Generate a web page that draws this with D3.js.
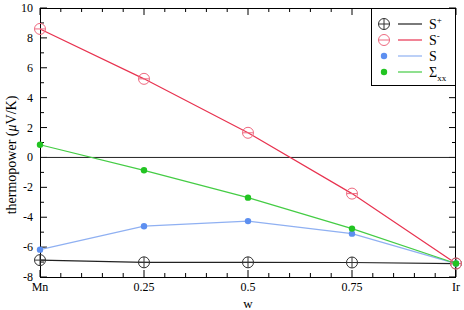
<!DOCTYPE html>
<html>
<head>
<meta charset="utf-8">
<script src="https://cdn.jsdelivr.net/npm/d3@7"></script>
<style>
  body { margin: 0; background: #fff; }
</style>
</head>
<body>
<div id="chart"></div>
<script>
const width = 464;
const height = 310;
const margin = { left: 40, top: 8, right: 8, bottom: 33 };

// data
const wValues = [0, 0.25, 0.5, 0.75, 1];
const xTickLabels = ['Mn', '0.25', '0.5', '0.75', 'Ir'];
const sPlus = [-6.87, -7.02, -7.02, -7.03, -7.1];
const sMinus = [8.6, 5.26, 1.65, -2.42, -7.1];
const sTotal = [-6.17, -4.6, -4.26, -5.1, -7.1];
const sigmaXX = [0.85, -0.86, -2.69, -4.76, -7.1];
const yTicks = [-8, -6, -4, -2, 0, 2, 4, 6, 8, 10];

const series = [
  { name: 'S', sup: '+', sub: null, values: sPlus, line: '#222', marker: 'plus', mcolor: '#333' },
  { name: 'S', sup: '-', sub: null, values: sMinus, line: '#e8324f', marker: 'minus', mcolor: '#ee6a80' },
  { name: 'S', sup: null, sub: null, values: sTotal, line: '#8fb0f2', marker: 'dot', mcolor: '#5d8ff0' },
  { name: 'Σ', sup: null, sub: 'xx', values: sigmaXX, line: '#44cc44', marker: 'dot', mcolor: '#22c422' },
];

const svg = d3.select('#chart').append('svg')
  .attr('width', width)
  .attr('height', height)
  .attr('font-family', "'Liberation Serif', 'Times New Roman', 'DejaVu Serif', serif");

const x = d3.scaleLinear()
  .domain([0, 1])
  .range([margin.left, width - margin.right]);
const y = d3.scaleLinear()
  .domain([-8, 10])
  .range([height - margin.bottom, margin.top]);

const x0 = margin.left, x1 = width - margin.right;
const y0 = height - margin.bottom, y1 = margin.top;

// ticks on all four sides, pointing inwards
const tickG = svg.append('g').attr('stroke', '#000').attr('stroke-width', 1);
const xMinor = d3.range(0, 1.0001, 0.05);
xMinor.forEach((v, i) => {
  const len = i % 5 === 0 ? 7 : 4;
  tickG.append('line').attr('x1', x(v)).attr('x2', x(v)).attr('y1', y0).attr('y2', y0 - len);
  tickG.append('line').attr('x1', x(v)).attr('x2', x(v)).attr('y1', y1).attr('y2', y1 + len);
});
d3.range(-8, 10.001, 1).forEach((v) => {
  const len = v % 2 === 0 ? 7 : 4;
  tickG.append('line').attr('y1', y(v)).attr('y2', y(v)).attr('x1', x0).attr('x2', x0 + len);
  tickG.append('line').attr('y1', y(v)).attr('y2', y(v)).attr('x1', x1).attr('x2', x1 - len);
});

// zero line
svg.append('line')
  .attr('x1', x0).attr('x2', x1)
  .attr('y1', y(0)).attr('y2', y(0))
  .attr('stroke', '#222').attr('stroke-width', 1);

// frame
svg.append('rect')
  .attr('x', x0 + 0.5).attr('y', y1 + 0.5)
  .attr('width', x1 - x0 - 1).attr('height', y0 - y1)
  .attr('fill', 'none').attr('stroke', '#000').attr('stroke-width', 1);

// tick labels
svg.append('g').selectAll('text')
  .data(yTicks)
  .enter().append('text')
    .attr('x', x0 - 7)
    .attr('y', (d) => y(d) + 4)
    .attr('text-anchor', 'end')
    .attr('font-size', 12)
    .text((d) => d);

svg.append('g').selectAll('text')
  .data(wValues)
  .enter().append('text')
    .attr('x', (d) => x(d))
    .attr('y', y0 + 14)
    .attr('text-anchor', 'middle')
    .attr('font-size', 12)
    .text((d, i) => xTickLabels[i]);

// axis titles
svg.append('text')
  .attr('x', (x0 + x1) / 2)
  .attr('y', y0 + 31)
  .attr('text-anchor', 'middle')
  .attr('font-size', 13)
  .text('w');

const yTitle = svg.append('text')
  .attr('text-anchor', 'middle')
  .attr('font-size', 14)
  .attr('transform', `translate(16,155) rotate(-90)`);
yTitle.append('tspan').text('thermopower (');
yTitle.append('tspan').attr('font-style', 'italic').text('μ');
yTitle.append('tspan').text('V/K)');

function drawMarker(g, s, cx, cy) {
  if (s.marker === 'dot') {
    g.append('circle').attr('cx', cx).attr('cy', cy).attr('r', 3.2)
      .attr('fill', s.mcolor);
    return;
  }
  const r = 5.5;
  g.append('circle').attr('cx', cx).attr('cy', cy).attr('r', r)
    .attr('fill', 'none').attr('stroke', s.mcolor).attr('stroke-width', 1);
  g.append('line').attr('x1', cx - r).attr('x2', cx + r).attr('y1', cy).attr('y2', cy)
    .attr('stroke', s.mcolor).attr('stroke-width', 1);
  if (s.marker === 'plus') {
    g.append('line').attr('x1', cx).attr('x2', cx).attr('y1', cy - r).attr('y2', cy + r)
      .attr('stroke', s.mcolor).attr('stroke-width', 1);
  }
}

const line = d3.line()
  .x((d, i) => x(wValues[i]))
  .y((d) => y(d));

// lines first, then markers on top
series.forEach((s) => {
  svg.append('path')
    .datum(s.values)
    .attr('fill', 'none')
    .attr('stroke', s.line)
    .attr('stroke-width', 1.2)
    .attr('d', line);
});
series.forEach((s) => {
  const g = svg.append('g');
  s.values.forEach((v, i) => drawMarker(g, s, x(wValues[i]), y(v)));
});

// legend
const legend = svg.append('g');
const lx = 371;
legend.append('rect')
  .attr('x', lx + 0.5).attr('y', y1 + 0.5)
  .attr('width', x1 - lx - 1).attr('height', 77)
  .attr('fill', '#fff').attr('stroke', '#000').attr('stroke-width', 1);

series.forEach((s, i) => {
  const ry = 24 + i * 16;
  drawMarker(legend, s, 384, ry);
  legend.append('line')
    .attr('x1', 398).attr('x2', 422).attr('y1', ry).attr('y2', ry)
    .attr('stroke', s.line).attr('stroke-width', 1.2);
  const t = legend.append('text')
    .attr('x', 429).attr('y', ry + 5)
    .attr('font-size', 14);
  t.append('tspan').text(s.name);
  if (s.sup) t.append('tspan').attr('dy', -6).attr('font-size', 9).text(s.sup);
  if (s.sub) t.append('tspan').attr('dy', 4).attr('font-size', 9).text(s.sub);
});
</script>
</body>
</html>
